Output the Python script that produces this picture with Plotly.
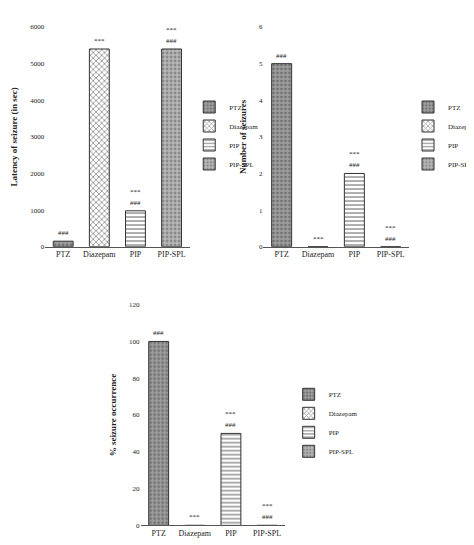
import plotly.graph_objects as go

groups = ["PTZ", "Diazepam", "PIP", "PIP-SPL"]
latency = [150, 5400, 980, 5400]
num_seizures = [5, 0, 2, 0]
pct_occurrence = [100, 0, 50, 0]
latency_marks = [["###"], ["***"], ["###", "***"], ["###", "***"]]
seizure_marks = [["###"], ["***"], ["###", "***"], ["###", "***"]]
pct_marks = [["###"], ["***"], ["###", "***"], ["###", "***"]]

patterns = [".", "x", "-", "."]
fills = ["#a0a0a0", "#ffffff", "#ffffff", "#b8b8b8"]
pcolors = ["#444444", "#333333", "#333333", "#555555"]

F = "Liberation Serif, Times New Roman, serif"
fig = go.Figure()

panels = [
    ("x", "y", "legend", latency, latency_marks, "Latency of seizure (in sec)", [0, 6000], 1000),
    ("x2", "y2", "legend2", num_seizures, seizure_marks, "Number of seizures", [0, 6], 1),
    ("x3", "y3", "legend3", pct_occurrence, pct_marks, "% seizure occurrence", [0, 120], 20),
]
for xa, ya, lg, vals, marks, title, rng, dt in panels:
    for i, g in enumerate(groups):
        fig.add_trace(go.Bar(
            x=[g], y=[vals[i]], name=g, xaxis=xa, yaxis=ya, legend=lg,
            width=0.55, offsetgroup=0,
            marker=dict(color=fills[i], line=dict(color="#333333", width=1),
                        pattern=dict(shape=patterns[i], fgcolor=pcolors[i], size=4, solidity=0.4)),
        ))
        for k, m in enumerate(marks[i]):
            fig.add_annotation(x=g, y=vals[i], xref=xa, yref=ya, text=m, showarrow=False,
                               yanchor="bottom", yshift=2 + k * 11,
                               font=dict(family=F, size=7, color="#222222"))

doms = {
    "1": ([0.084, 0.411], [0.563, 0.972]),
    "2": ([0.578, 0.907], [0.563, 0.972]),
    "3": ([0.300, 0.627], [0.044, 0.455]),
}
lay = {}
for n, (xd, yd) in doms.items():
    sfx = "" if n == "1" else n
    p = panels[int(n) - 1]
    lay["xaxis" + sfx] = dict(domain=xd, anchor="y" + sfx, showline=True, linecolor="#555555",
                              ticks="", tickfont=dict(family=F, size=8, color="#222222"),
                              categoryorder="array", categoryarray=groups)
    lay["yaxis" + sfx] = dict(domain=yd, anchor="x" + sfx, range=p[6], dtick=p[7], showline=False,
                              showgrid=False, zeroline=False, ticks="",
                              tickfont=dict(family=F, size=7, color="#222222"),
                              title=dict(text="<b>" + p[5] + "</b>", font=dict(family=F, size=9, color="#222222"), standoff=10))
fig.update_layout(**lay)
leg_common = dict(font=dict(family=F, size=7, color="#222222"), bgcolor="rgba(0,0,0,0)",
                  xanchor="left", yanchor="middle", itemwidth=30)
fig.update_layout(
    width=474, height=545, margin=dict(l=0, r=0, t=0, b=0),
    paper_bgcolor="white", plot_bgcolor="white", barmode="overlay",
    legend=dict(x=0.41, y=0.77, **leg_common),
    legend2=dict(x=0.905, y=0.77, **leg_common),
    legend3=dict(x=0.635, y=0.235, **leg_common),
)
fig.write_html("out.html")
